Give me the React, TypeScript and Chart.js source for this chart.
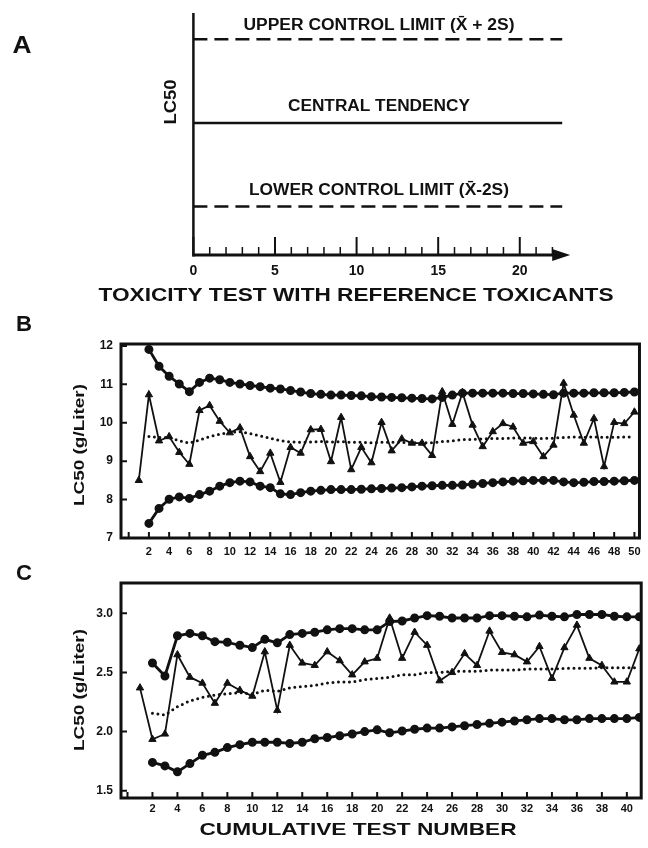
import React, { useEffect, useRef } from "react";
import { Chart, registerables } from "chart.js";

Chart.register(...registerables);

const INK = "#111";
const FONT = '"Liberation Sans", Arial, Helvetica, sans-serif';
const PAGE_W = 648;
const PAGE_H = 848;

// ---------------- Panel A (schematic control chart) ----------------
const A_SPAN = [0, 22.6];
const A_UPPER = [10.7, 10.7];
const A_CENTRAL = [6.55, 6.55];
const A_LOWER = [2.4, 2.4];
const A_MAJOR_TICKS = [0, 5, 10, 15, 20];
const A_MINOR_TICKS = [1, 2, 3, 4, 6, 7, 8, 9, 11, 12, 13, 14, 16, 17, 18, 19, 21, 22];
const A_LINE_LABELS = ["UPPER CONTROL LIMIT (X\u0304 + 2S)", "CENTRAL TENDENCY", "LOWER CONTROL LIMIT (X\u0304-2S)"];

// ---------------- Panel B ----------------
const TESTS_B = [1, 2, 3, 4, 5, 6, 7, 8, 9, 10, 11, 12, 13, 14, 15, 16, 17, 18, 19, 20, 21, 22, 23, 24, 25,
  26, 27, 28, 29, 30, 31, 32, 33, 34, 35, 36, 37, 38, 39, 40, 41, 42, 43, 44, 45, 46, 47, 48, 49, 50];
const LC50_B = [8.50, 10.73, 9.53, 9.64, 9.23, 8.92, 10.32, 10.45, 10.04, 9.74, 9.87, 9.12, 8.73, 9.21, 8.45,
  9.36, 9.21, 9.82, 9.83, 8.99, 10.14, 8.78, 9.36, 8.96, 10.01, 9.27, 9.58, 9.47, 9.47, 9.15, 10.81, 9.96, 10.79,
  9.94, 9.38, 9.77, 9.98, 9.89, 9.47, 9.51, 9.12, 9.42, 11.03, 10.20, 9.47, 10.11, 8.86, 10.01, 9.98, 10.28];
// the following series start at test 2
const UCL_B = [11.91, 11.47, 11.21, 11.01, 10.81, 11.05, 11.16, 11.12, 11.05, 11.01, 10.97, 10.94, 10.90, 10.88,
  10.84, 10.80, 10.76, 10.74, 10.72, 10.72, 10.71, 10.70, 10.68, 10.67, 10.66, 10.65, 10.64, 10.63, 10.62, 10.66,
  10.72, 10.77, 10.77, 10.77, 10.77, 10.77, 10.76, 10.76, 10.75, 10.74, 10.73, 10.77, 10.77, 10.77, 10.78, 10.78,
  10.78, 10.79, 10.80];
const LCL_B = [7.38, 7.77, 8.01, 8.07, 8.03, 8.13, 8.22, 8.35, 8.44, 8.48, 8.46, 8.35, 8.31, 8.15, 8.13, 8.18,
  8.22, 8.24, 8.26, 8.26, 8.26, 8.27, 8.28, 8.29, 8.30, 8.31, 8.33, 8.35, 8.36, 8.37, 8.37, 8.38, 8.40, 8.42, 8.44,
  8.46, 8.48, 8.49, 8.50, 8.50, 8.50, 8.46, 8.44, 8.45, 8.47, 8.47, 8.48, 8.49, 8.50];
const MEAN_B = [9.64, 9.62, 9.61, 9.53, 9.47, 9.55, 9.64, 9.70, 9.75, 9.77, 9.72, 9.66, 9.60, 9.53, 9.50, 9.49,
  9.50, 9.51, 9.50, 9.51, 9.49, 9.49, 9.48, 9.49, 9.49, 9.49, 9.48, 9.48, 9.48, 9.51, 9.53, 9.56, 9.57, 9.58, 9.59,
  9.59, 9.60, 9.60, 9.60, 9.59, 9.60, 9.62, 9.63, 9.62, 9.63, 9.62, 9.62, 9.63, 9.63];
const X_LABELS_B = [2, 4, 6, 8, 10, 12, 14, 16, 18, 20, 22, 24, 26, 28, 30, 32, 34, 36, 38, 40, 42, 44, 46, 48, 50];
const X_MARKS_B = [0, 2, 4, 6, 8, 10, 12, 14, 16, 18, 20, 22, 24, 26, 28, 30, 32, 34, 36, 38, 40, 42, 44, 46, 48, 50];
const Y_TICKS_B = [7, 8, 9, 10, 11, 12];

// ---------------- Panel C ----------------
const TESTS_C = [1, 2, 3, 4, 5, 6, 7, 8, 9, 10, 11, 12, 13, 14, 15, 16, 17, 18, 19, 20, 21, 22, 23, 24, 25,
  26, 27, 28, 29, 30, 31, 32, 33, 34, 35, 36, 37, 38, 39, 40, 41];
const LC50_C = [2.37, 1.935, 1.98, 2.65, 2.46, 2.41, 2.24, 2.41, 2.35, 2.30, 2.675, 2.18, 2.73, 2.58, 2.56, 2.675,
  2.60, 2.48, 2.59, 2.62, 2.96, 2.62, 2.84, 2.73, 2.43, 2.50, 2.66, 2.56, 2.85, 2.67, 2.65, 2.59, 2.72, 2.45, 2.71,
  2.90, 2.62, 2.56, 2.42, 2.42, 2.70];
// the following series start at test 2
const UCL_C = [2.58, 2.47, 2.81, 2.83, 2.81, 2.76, 2.755, 2.73, 2.71, 2.78, 2.75, 2.82, 2.83, 2.84, 2.86, 2.87,
  2.87, 2.86, 2.86, 2.93, 2.935, 2.96, 2.98, 2.975, 2.96, 2.96, 2.96, 2.98, 2.98, 2.975, 2.97, 2.985, 2.975, 2.97,
  2.99, 2.99, 2.99, 2.975, 2.97, 2.97];
const LCL_C = [1.74, 1.71, 1.66, 1.73, 1.80, 1.825, 1.865, 1.89, 1.91, 1.91, 1.91, 1.90, 1.91, 1.94, 1.95, 1.965,
  1.98, 2.00, 2.015, 1.99, 2.005, 2.02, 2.03, 2.03, 2.04, 2.05, 2.06, 2.07, 2.08, 2.09, 2.10, 2.11, 2.11, 2.10, 2.10,
  2.11, 2.11, 2.11, 2.11, 2.12];
const MEAN_C = [2.155, 2.14, 2.21, 2.26, 2.29, 2.31, 2.32, 2.33, 2.315, 2.35, 2.34, 2.37, 2.38, 2.39, 2.41, 2.42,
  2.42, 2.44, 2.45, 2.46, 2.48, 2.48, 2.50, 2.50, 2.51, 2.51, 2.51, 2.52, 2.52, 2.52, 2.53, 2.53, 2.53, 2.535, 2.535,
  2.535, 2.54, 2.54, 2.54, 2.54];
const X_LABELS_C = [2, 4, 6, 8, 10, 12, 14, 16, 18, 20, 22, 24, 26, 28, 30, 32, 34, 36, 38, 40];
const X_MARKS_C = [0, 2, 4, 6, 8, 10, 12, 14, 16, 18, 20, 22, 24, 26, 28, 30, 32, 34, 36, 38, 40];
const Y_TICKS_C = [1.5, 2.0, 2.5, 3.0];

// ---------------- helpers ----------------
function fitText(ctx: CanvasRenderingContext2D, text: string, x: number, y: number, font: string, width: number, angle = 0) {
  ctx.save();
  ctx.font = font;
  const w = ctx.measureText(text).width || 1;
  ctx.translate(x, y);
  ctx.rotate(angle);
  ctx.scale(width / w, 1);
  ctx.textAlign = "center";
  ctx.textBaseline = "middle";
  ctx.fillStyle = INK;
  ctx.fillText(text, 0, 0);
  ctx.restore();
}

function pts(xs: number[], ys: number[], offset: number) {
  return ys.map((y, i) => ({ x: xs[i + offset], y }));
}

function seriesSets(xs: number[], lc50: number[], ucl: number[], lcl: number[], mean: number[]) {
  return [
    { data: pts(xs, mean, 1), borderColor: INK, borderWidth: 3, borderDash: [0, 5.5], borderCapStyle: "round", pointRadius: 0 },
    { data: pts(xs, ucl, 1), borderColor: INK, borderWidth: 2.8, pointStyle: "circle", pointRadius: 3.1, pointBackgroundColor: INK, pointBorderColor: INK },
    { data: pts(xs, lcl, 1), borderColor: INK, borderWidth: 2.8, pointStyle: "circle", pointRadius: 3.1, pointBackgroundColor: INK, pointBorderColor: INK },
    { data: pts(xs, lc50, 0), borderColor: INK, borderWidth: 1.8, pointStyle: "triangle", pointRadius: 4.2, pointBackgroundColor: INK, pointBorderColor: INK, pointBorderWidth: 1 },
  ];
}

type Deco = { letter: string; letterY: number; titleY: number; titleLen: number; xMarks: number[]; bottomTitle?: boolean };

function boxDeco(d: Deco) {
  return {
    id: "boxDeco",
    afterDraw(chart: any) {
      const { ctx, chartArea: a, scales } = chart;
      const xs = scales.x, ys = scales.y;
      ctx.save();
      ctx.strokeStyle = INK;
      ctx.lineWidth = 3;
      ctx.strokeRect(a.left, a.top, a.right - a.left, a.bottom - a.top);
      ctx.lineWidth = 2;
      ctx.beginPath();
      for (const v of d.xMarks) {
        const px = xs.getPixelForValue(v);
        ctx.moveTo(px, a.bottom);
        ctx.lineTo(px, a.bottom - 6);
      }
      for (const t of ys.ticks) {
        const py = ys.getPixelForValue(t.value);
        ctx.moveTo(a.left, py);
        ctx.lineTo(a.left + 6, py);
      }
      ctx.stroke();
      ctx.restore();
      fitText(ctx, "LC50 (g/Liter)", 80, d.titleY, `bold 14px ${FONT}`, d.titleLen, -Math.PI / 2);
      fitText(ctx, d.letter, 24, d.letterY, `bold 22px ${FONT}`, 16);
      if (d.bottomTitle) fitText(ctx, "CUMULATIVE TEST NUMBER", 358, 830, `bold 17px ${FONT}`, 317);
    },
  };
}

const decoA = {
  id: "decoA",
  afterDraw(chart: any) {
    const { ctx, chartArea: a, scales } = chart;
    const xs = scales.x, ys = scales.y;
    ctx.save();
    ctx.strokeStyle = INK;
    ctx.fillStyle = INK;
    ctx.lineWidth = 2.5;
    ctx.beginPath();
    ctx.moveTo(a.left, a.top);
    ctx.lineTo(a.left, a.bottom + 1.5);
    ctx.stroke();
    ctx.lineWidth = 3;
    ctx.beginPath();
    ctx.moveTo(a.left - 1, a.bottom);
    ctx.lineTo(a.right - 12, a.bottom);
    ctx.stroke();
    ctx.beginPath();
    ctx.moveTo(a.right, a.bottom);
    ctx.lineTo(a.right - 18, a.bottom - 6);
    ctx.lineTo(a.right - 18, a.bottom + 6);
    ctx.closePath();
    ctx.fill();
    ctx.lineWidth = 1.5;
    ctx.beginPath();
    for (const v of A_MINOR_TICKS) {
      const px = xs.getPixelForValue(v);
      ctx.moveTo(px, a.bottom);
      ctx.lineTo(px, a.bottom - 8);
    }
    ctx.stroke();
    ctx.lineWidth = 2;
    ctx.beginPath();
    for (const v of A_MAJOR_TICKS) {
      const px = xs.getPixelForValue(v);
      ctx.moveTo(px, a.bottom);
      ctx.lineTo(px, a.bottom - 18);
    }
    ctx.stroke();
    ctx.restore();
    const levels = [A_UPPER[0], A_CENTRAL[0], A_LOWER[0]];
    const gaps = [14, 16, 16];
    const widths = [271, 182, 260];
    const cx = xs.getPixelForValue(11.37);
    A_LINE_LABELS.forEach((t, i) => {
      fitText(ctx, t, cx, ys.getPixelForValue(levels[i]) - gaps[i], `bold 16px ${FONT}`, widths[i]);
    });
    fitText(ctx, "LC50", a.left - 22, 102, `bold 16px ${FONT}`, 45, -Math.PI / 2);
    fitText(ctx, "TOXICITY TEST WITH REFERENCE TOXICANTS", 356, 296, `bold 19px ${FONT}`, 515);
    fitText(ctx, "A", 22, 46, `bold 24px ${FONT}`, 19);
  },
};

// Panel A occupies page y 0..300; x axis line at y=255, y axis at x=193
function makeA() {
  return {
    type: "line",
    data: {
      datasets: [
        { data: pts(A_SPAN, A_UPPER, 0), borderColor: INK, borderWidth: 2.5, borderDash: [14, 7], pointRadius: 0 },
        { data: pts(A_SPAN, A_CENTRAL, 0), borderColor: INK, borderWidth: 2.5, pointRadius: 0 },
        { data: pts(A_SPAN, A_LOWER, 0), borderColor: INK, borderWidth: 2.5, borderDash: [14, 7], pointRadius: 0 },
      ],
    },
    options: {
      animation: false,
      responsive: false,
      layout: { padding: { left: 193.4, right: 77.8, top: 13, bottom: PAGE_H - 300 } },
      plugins: { legend: { display: false }, tooltip: { enabled: false } },
      scales: {
        x: {
          type: "linear", min: 0, max: 23.09,
          afterBuildTicks: (s: any) => { s.ticks = A_MAJOR_TICKS.map((v) => ({ value: v })); },
          afterFit: (s: any) => { s.height = 45; },
          grid: { display: false, drawTicks: false },
          border: { display: false },
          ticks: { color: INK, font: { family: FONT, size: 14, weight: "bold" }, padding: 8, autoSkip: false, maxRotation: 0 },
        },
        y: { type: "linear", display: false, min: 0, max: 12 },
      },
    },
    plugins: [decoA],
  };
}

function panelOptions(xMin: number, xMax: number, xLabels: number[], xPad: number, xHeight: number,
  yMin: number, yMax: number, yTicks: number[], yFmt: (v: number) => string, padTop: number, padRight: number, padBottom: number) {
  return {
    animation: false,
    responsive: false,
    layout: { padding: { left: 0, right: padRight, top: padTop, bottom: padBottom } },
    plugins: { legend: { display: false }, tooltip: { enabled: false } },
    scales: {
      x: {
        type: "linear", min: xMin, max: xMax,
        afterBuildTicks: (s: any) => { s.ticks = xLabels.map((v) => ({ value: v })); },
        afterFit: (s: any) => { s.height = xHeight; },
        grid: { display: false, drawTicks: false },
        border: { display: false },
        ticks: { color: INK, font: { family: FONT, size: 11, weight: "bold" }, padding: xPad, autoSkip: false, maxRotation: 0 },
      },
      y: {
        type: "linear", min: yMin, max: yMax,
        afterBuildTicks: (s: any) => { s.ticks = yTicks.map((v) => ({ value: v })); },
        afterFit: (s: any) => { s.width = 121; },
        grid: { display: false, drawTicks: false },
        border: { display: false },
        ticks: { color: INK, font: { family: FONT, size: 12, weight: "bold" }, padding: 8, callback: (v: any) => yFmt(Number(v)) },
      },
    },
  };
}

// Panel B: plot box page y 344..538
function makeB() {
  return {
    type: "line",
    data: { datasets: seriesSets(TESTS_B, LC50_B, UCL_B, LCL_B, MEAN_B) },
    options: panelOptions(-0.76, 50.5, X_LABELS_B, 7.4, 32, 7, 12.05, Y_TICKS_B, (v) => String(v), 344, 3, PAGE_H - 570),
    plugins: [boxDeco({ letter: "B", letterY: 325, titleY: 445, titleLen: 122, xMarks: X_MARKS_B })],
  };
}

// Panel C: plot box page y 583..798
function makeC() {
  return {
    type: "line",
    data: { datasets: seriesSets(TESTS_C, LC50_C, UCL_C, LCL_C, MEAN_C) },
    options: panelOptions(-0.52, 41.15, X_LABELS_C, 4.4, 50, 1.439, 3.256, Y_TICKS_C, (v) => v.toFixed(1), 583, 2, 0),
    plugins: [boxDeco({ letter: "C", letterY: 574, titleY: 690, titleLen: 122, xMarks: X_MARKS_C, bottomTitle: true })],
  };
}

function ChartLayer({ make }: { make: () => any }) {
  const ref = useRef<HTMLCanvasElement>(null);
  useEffect(() => {
    const chart = new Chart(ref.current as HTMLCanvasElement, make());
    return () => chart.destroy();
  }, []);
  return (
    <canvas
      ref={ref}
      width={PAGE_W}
      height={PAGE_H}
      style={{ position: "absolute", left: 0, top: 0, width: PAGE_W, height: PAGE_H, display: "block" }}
    />
  );
}

export default function App() {
  return (
    <div style={{ position: "absolute", left: 0, top: 0, width: PAGE_W, height: PAGE_H, background: "#fff", overflow: "hidden" }}>
      <ChartLayer make={makeA} />
      <ChartLayer make={makeB} />
      <ChartLayer make={makeC} />
    </div>
  );
}
